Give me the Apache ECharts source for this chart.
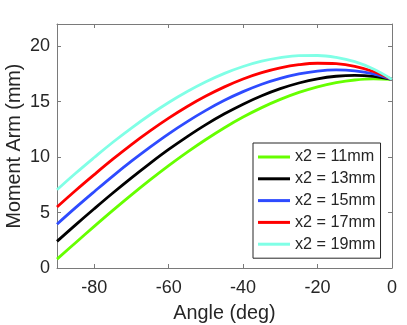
<!DOCTYPE html>
<html>
<head>
<meta charset="utf-8">
<title>Moment Arm</title>
<script src="https://cdn.jsdelivr.net/npm/echarts@6/dist/echarts.min.js"></script>
<style>
  html, body { margin: 0; padding: 0; background: #fff; }
  #main { width: 407px; height: 325px; }
</style>
</head>
<body>
<div id="main"></div>
<script>
// angles (deg), one point every 5 degrees
var angles = [-90, -85, -80, -75, -70, -65, -60, -55, -50, -45, -40, -35, -30, -25, -20, -15, -10, -5, 0];

var names = ['x2 = 11mm', 'x2 = 13mm', 'x2 = 15mm', 'x2 = 17mm', 'x2 = 19mm'];
var colors = ['#66ff00', '#000000', '#2e4bff', '#ff0000', '#80ffe6'];

// moment arm (mm)
var arm11 = [0.80, 2.28, 3.75, 5.19, 6.59, 7.94, 9.23, 10.45, 11.59, 12.65, 13.61, 14.46, 15.20, 15.83, 16.34, 16.71, 16.95, 17.05, 17.00];
var arm13 = [2.40, 3.89, 5.34, 6.76, 8.13, 9.44, 10.69, 11.85, 12.93, 13.90, 14.77, 15.53, 16.17, 16.68, 17.06, 17.29, 17.37, 17.28, 17.00];
var arm15 = [3.95, 5.44, 6.88, 8.29, 9.63, 10.90, 12.10, 13.20, 14.21, 15.12, 15.90, 16.57, 17.10, 17.50, 17.76, 17.86, 17.78, 17.50, 17.00];
var arm17 = [5.50, 6.99, 8.42, 9.81, 11.13, 12.36, 13.51, 14.56, 15.50, 16.33, 17.04, 17.61, 18.04, 18.33, 18.46, 18.42, 18.19, 17.72, 17.00];
var arm19 = [7.05, 8.54, 9.96, 11.34, 12.62, 13.82, 14.92, 15.91, 16.79, 17.55, 18.17, 18.65, 18.97, 19.15, 19.16, 18.99, 18.60, 17.94, 17.00];

var xTicks = [-80, -60, -40, -20, 0];
var yTicks = [0, 5, 10, 15, 20];

var allArms = [arm11, arm13, arm15, arm17, arm19];

var chart = echarts.init(document.getElementById('main'));

var axisColor = '#262626';
var boxColor = '#7a7a7a';
var fontName = 'Liberation Sans';

function pairs(ys) {
    return angles.map(function (a, i) { return [a, ys[i]]; });
}

var series = allArms.map(function (ys, i) {
    return {
        name: names[i],
        type: 'line',
        data: pairs(ys),
        showSymbol: false,
        smooth: 0.4,
        lineStyle: { color: colors[i], width: 2.8 },
        itemStyle: { color: colors[i] }
    };
});

var option = {
    backgroundColor: '#ffffff',
    animation: false,
    grid: { left: 57, right: 15, top: 24, bottom: 57, containLabel: false, outerBoundsMode: 'none' },
    legend: {
        orient: 'vertical',
        left: 253,
        top: 143,
        padding: [5, 5, 5, 5],
        itemWidth: 32,
        itemHeight: 3,
        itemGap: 3.8,
        icon: 'rect',
        backgroundColor: '#ffffff',
        borderColor: axisColor,
        borderWidth: 1,
        borderRadius: 0,
        textStyle: { fontFamily: fontName, fontSize: 16.2, color: axisColor, lineHeight: 18 },
        data: names
    },
    xAxis: [{
        type: 'value',
        min: -90,
        max: 0,
        position: 'bottom',
        name: 'Angle (deg)',
        nameLocation: 'middle',
        nameGap: 36,
        nameTextStyle: { fontFamily: fontName, fontSize: 19.8, color: axisColor },
        axisLine: { onZero: false, lineStyle: { color: boxColor, width: 1 } },
        axisTick: { inside: true, length: 4, customValues: xTicks, lineStyle: { color: boxColor } },
        axisLabel: { customValues: xTicks, margin: 11, fontFamily: fontName, fontSize: 18, color: axisColor },
        splitLine: { show: false }
    }, {
        type: 'value',
        min: -90,
        max: 0,
        position: 'top',
        axisLine: { onZero: false, lineStyle: { color: boxColor, width: 1 } },
        axisTick: { inside: true, length: 4, customValues: xTicks, lineStyle: { color: boxColor } },
        axisLabel: { show: false },
        splitLine: { show: false }
    }],
    yAxis: [{
        type: 'value',
        min: 0,
        max: 22,
        position: 'left',
        name: 'Moment Arm (mm)',
        nameLocation: 'middle',
        nameGap: 32,
        nameMoveOverlap: false,
        nameTextStyle: { fontFamily: fontName, fontSize: 19.8, color: axisColor },
        axisLine: { show: true, onZero: false, lineStyle: { color: boxColor, width: 1 } },
        axisTick: { show: true, inside: true, length: 4, customValues: yTicks, lineStyle: { color: boxColor } },
        axisLabel: { customValues: yTicks, margin: 7, fontFamily: fontName, fontSize: 18, color: axisColor },
        splitLine: { show: false }
    }, {
        type: 'value',
        min: 0,
        max: 22,
        position: 'right',
        axisLine: { show: true, onZero: false, lineStyle: { color: boxColor, width: 1 } },
        axisTick: { show: true, inside: true, length: 4, customValues: yTicks, lineStyle: { color: boxColor } },
        axisLabel: { show: false },
        splitLine: { show: false }
    }],
    series: series
};

chart.setOption(option);
</script>
</body>
</html>
